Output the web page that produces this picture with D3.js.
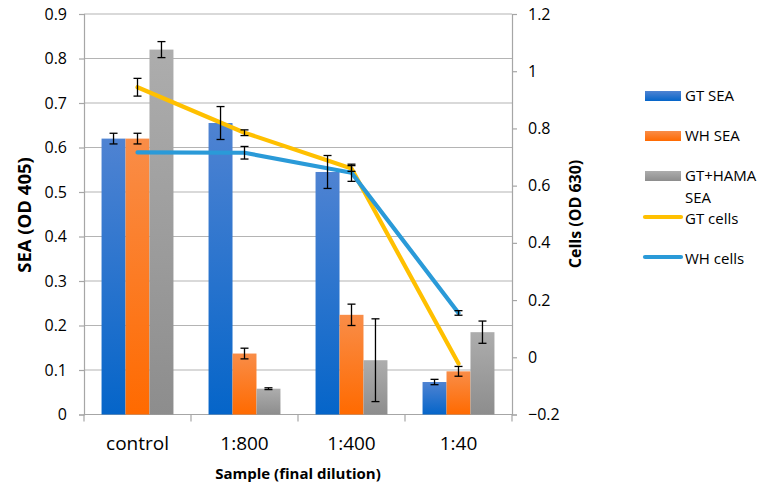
<!DOCTYPE html>
<html><head><meta charset="utf-8">
<script src="https://cdn.jsdelivr.net/npm/d3@7"></script>
<style>body{margin:0;background:#fff} text{font-family:"Open Sans",sans-serif;fill:#000}</style>
</head><body><svg id="c" width="770" height="489"></svg>
<script>
const categories = ["control", "1:800", "1:400", "1:40"];
const gtSea = [0.62, 0.655, 0.545, 0.073];
const gtSeaErr = [0.012, 0.037, 0.037, 0.006];
const whSea = [0.62, 0.137, 0.224, 0.097];
const whSeaErr = [0.012, 0.012, 0.024, 0.011];
const gtHamaSea = [0.82, 0.058, 0.122, 0.185];
const gtHamaSeaErr = [0.018, 0.002, 0.093, 0.025];
const gtCells = [0.944, 0.785, 0.66, -0.022];
const gtCellsErr = [0.031, 0.01, 0.01, 0];
const whCells = [0.716, 0.715, 0.645, 0.155];
const whCellsErr = [0, 0.022, 0.03, 0.008];
const leftTicks = [0, 0.1, 0.2, 0.3, 0.4, 0.5, 0.6, 0.7, 0.8, 0.9];
const rightTicks = [-0.2, 0, 0.2, 0.4, 0.6, 0.8, 1, 1.2];
const legendLabels = ["GT SEA", "WH SEA", "GT+HAMA SEA", "GT cells", "WH cells"];

const svg = d3.select("#c");
const L = 84, R = 512, T = 14, B = 414.5;

const x = d3.scaleBand().domain(categories).range([L, R]).padding(0);
const barKeys = ["gt", "wh", "hama"];
const xs = d3.scaleBand().domain(barKeys)
  .range([x.bandwidth() * 0.164, x.bandwidth() * 0.836]).padding(0);
const yL = d3.scaleLinear().domain([0, 0.9]).range([B, T]);
const yR = d3.scaleLinear().domain([-0.2, 1.2]).range([B, T]);

const bars = [
  {key: "gt", values: gtSea, err: gtSeaErr, c0: "#4f83d2", c1: "#0565c9"},
  {key: "wh", values: whSea, err: whSeaErr, c0: "#f98d48", c1: "#ff6a00"},
  {key: "hama", values: gtHamaSea, err: gtHamaSeaErr, c0: "#adadad", c1: "#8d8d8d"}
];
const lines = [
  {values: gtCells, err: gtCellsErr, color: "#ffc000"},
  {values: whCells, err: whCellsErr, color: "#2a9ad8"}
];

const defs = svg.append("defs");
bars.forEach(s => {
  const g = defs.append("linearGradient").attr("id", "g-" + s.key)
    .attr("x1", 0).attr("y1", 0).attr("x2", 0).attr("y2", 1);
  g.append("stop").attr("offset", "0%").attr("stop-color", s.c0);
  g.append("stop").attr("offset", "100%").attr("stop-color", s.c1);
});

// gridlines
svg.append("g").selectAll("line").data(leftTicks.filter(d => d > 0)).join("line")
  .attr("x1", L).attr("x2", R).attr("y1", d => yL(d)).attr("y2", d => yL(d))
  .attr("stroke", "#b4b4b4").attr("stroke-width", 1.2);

// left axis
const axL = svg.append("g").attr("transform", `translate(${L},0)`)
  .call(d3.axisLeft(yL).tickValues(leftTicks).tickSize(5).tickPadding(12)
    .tickFormat(d => d === 0 ? "0" : d3.format(".1f")(d)));
// right axis
const axR = svg.append("g").attr("transform", `translate(${R},0)`)
  .call(d3.axisRight(yR).tickValues(rightTicks).tickSize(5).tickPadding(11)
    .tickFormat(d => d3.format("~g")(d)));
// bottom axis
const axB = svg.append("g").attr("transform", `translate(0,${B})`)
  .call(d3.axisBottom(x).tickSize(0).tickPadding(22));
svg.append("g").selectAll("line").data(d3.range(categories.length + 1)).join("line")
  .attr("x1", i => L + i * x.bandwidth()).attr("x2", i => L + i * x.bandwidth())
  .attr("y1", B).attr("y2", B + 7).attr("stroke", "#a6a6a6").attr("stroke-width", 1.2);

[axL, axR, axB].forEach(a => {
  a.selectAll(".domain").attr("stroke", "#a6a6a6").attr("stroke-width", 1.2);
  a.selectAll(".tick line").attr("stroke", "#a6a6a6").attr("stroke-width", 1.2);
  a.selectAll("text").style("font-family", '"Open Sans",sans-serif').attr("fill", "#000");
});
axL.selectAll("text").style("font-size", "16px");
axR.selectAll("text").style("font-size", "16px");
axB.selectAll("text").style("font-size", "19px");
axB.select(".domain").attr("d", `M${L},0H${R}`);

// bars
bars.forEach(s => {
  svg.append("g").selectAll("rect").data(categories).join("rect")
    .attr("x", (c) => x(c) + xs(s.key))
    .attr("width", xs.bandwidth())
    .attr("y", (c, i) => yL(s.values[i]))
    .attr("height", (c, i) => yL(0) - yL(s.values[i]))
    .attr("fill", `url(#g-${s.key})`);
});

function errBar(g, cx, yTop, yBot) {
  g.append("line").attr("x1", cx).attr("x2", cx).attr("y1", yTop).attr("y2", yBot);
  g.append("line").attr("x1", cx - 4).attr("x2", cx + 4).attr("y1", yTop).attr("y2", yTop);
  g.append("line").attr("x1", cx - 4).attr("x2", cx + 4).attr("y1", yBot).attr("y2", yBot);
}

// lines
const lineGen = d3.line().x((d, i) => x(categories[i]) + x.bandwidth() / 2).y(d => yR(d));
lines.forEach(s => {
  svg.append("path").datum(s.values).attr("d", lineGen)
    .attr("fill", "none").attr("stroke", s.color).attr("stroke-width", 4.2)
    .attr("stroke-linejoin", "round").attr("stroke-linecap", "round");
});

const eg = svg.append("g").attr("stroke", "#000").attr("stroke-width", 1.3);
bars.forEach(s => {
  categories.forEach((c, i) => {
    const cx = x(c) + xs(s.key) + xs.bandwidth() / 2;
    errBar(eg, cx, yL(s.values[i] + s.err[i]), yL(s.values[i] - s.err[i]));
  });
});
lines.forEach(s => {
  categories.forEach((c, i) => {
    if (s.err[i] > 0) {
      const cx = x(c) + x.bandwidth() / 2;
      errBar(eg, cx, yR(s.values[i] + s.err[i]), yR(s.values[i] - s.err[i]));
    }
  });
});

// axis titles
svg.append("text").attr("transform", "translate(31,215) rotate(-90)")
  .attr("text-anchor", "middle").style("font-weight", "bold").style("font-size", "18.5px")
  .text("SEA (OD 405)");
svg.append("text").attr("transform", "translate(581,214) rotate(-90)")
  .attr("text-anchor", "middle").style("font-weight", "bold").style("font-size", "16px")
  .text("Cells (OD 630)");
svg.append("text").attr("x", 298).attr("y", 479)
  .attr("text-anchor", "middle").style("font-weight", "bold").style("font-size", "15px")
  .text("Sample (final dilution)");

// legend
const legendY = [101, 141, 181, 224, 264];
const lg = svg.append("g");
legendLabels.forEach((lab, i) => {
  const yb = legendY[i];
  if (i < 3) {
    lg.append("rect").attr("x", 645).attr("y", yb - 10).attr("width", 36).attr("height", 10)
      .attr("fill", `url(#g-${bars[i].key})`);
  } else {
    lg.append("line").attr("x1", 645).attr("x2", 681).attr("y1", yb - 7).attr("y2", yb - 7)
      .attr("stroke", lines[i - 3].color).attr("stroke-width", 4.2).attr("stroke-linecap", "round");
  }
  const t = lg.append("text").attr("x", 685).attr("y", yb).style("font-size", "15px");
  const words = lab.split(" ");
  let line = [], tspan = t.append("tspan").attr("x", 685).attr("y", yb), ln = 0;
  words.forEach(w => {
    line.push(w);
    tspan.text(line.join(" "));
    if (tspan.node().getComputedTextLength() > 80 && line.length > 1) {
      line.pop(); tspan.text(line.join(" "));
      line = [w]; ln++;
      tspan = t.append("tspan").attr("x", 685).attr("y", yb + ln * 22).text(w);
    }
  });
});
</script></body></html>
